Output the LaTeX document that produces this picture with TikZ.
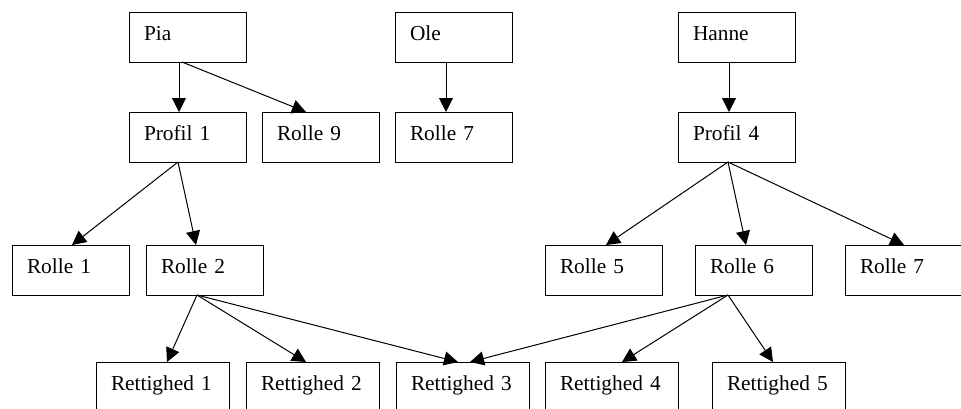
\documentclass[tikz,border=0pt]{standalone}
\usepackage{fontspec}
\setmainfont{Liberation Serif}
\usetikzlibrary{calc,arrows.meta}
\begin{document}
\begin{tikzpicture}[x=0.75pt,y=-0.75pt,
  box/.style={draw, line width=0.75pt, anchor=north west, minimum height=37.5pt,
    inner xsep=11.25pt, inner ysep=0pt, outer sep=0pt, text height=7.5pt, text depth=3pt,
    align=left, font=\fontsize{16}{18}\selectfont},
  sbox/.style={box, text width=65.25pt},
  wbox/.style={box, text width=77.25pt},
  conn/.style={-{Triangle[length=10.5pt,width=10.5pt]}, line width=0.75pt}]
\useasboundingbox (0,0) rectangle (961,408);
% row 1
\node[sbox] (pia) at (129,12) {Pia};
\node[sbox] (ole) at (395,12) {Ole};
\node[sbox] (hanne) at (678,12) {Hanne};
% row 2
\node[sbox] (prof1) at (129,112) {Profil 1};
\node[sbox] (r9) at (262,112) {Rolle 9};
\node[sbox] (r7a) at (395,112) {Rolle 7};
\node[sbox] (prof4) at (678,112) {Profil 4};
% row 3
\node[sbox] (r1) at (12,245) {Rolle 1};
\node[sbox] (r2) at (146,245) {Rolle 2};
\node[sbox] (r5) at (545,245) {Rolle 5};
\node[sbox] (r6) at (695,245) {Rolle 6};
\node[sbox] (r7b) at (845,245) {Rolle 7};
% row 4
\node[wbox] (ret1) at (96,362) {Rettighed 1};
\node[wbox] (ret2) at (246,362) {Rettighed 2};
\node[wbox] (ret3) at (396,362) {Rettighed 3};
\node[wbox] (ret4) at (545,362) {Rettighed 4};
\node[wbox] (ret5) at (712,362) {Rettighed 5};
% connectors
\draw[conn] ($(pia.south west)+(50,0)$) -- ($(prof1.north west)+(50,0)$);
\draw[conn] ($(pia.south west)+(53,0)$) -- ($(r9.north west)+(44,0)$);
\draw[conn] ($(ole.south west)+(51,0)$) -- ($(r7a.north west)+(51,0)$);
\draw[conn] ($(hanne.south west)+(51,0)$) -- ($(prof4.north west)+(51,0)$);
\draw[conn] ($(prof1.south west)+(49,0)$) -- ($(r1.north west)+(60,0)$);
\draw[conn] ($(prof1.south west)+(49,0)$) -- ($(r2.north west)+(50,0)$);
\draw[conn] ($(prof4.south west)+(50,0)$) -- ($(r5.north west)+(61,0)$);
\draw[conn] ($(prof4.south west)+(50,0)$) -- ($(r6.north west)+(51,0)$);
\draw[conn] ($(prof4.south west)+(50,0)$) -- ($(r7b.north west)+(59,0)$);
\draw[conn] ($(r2.south west)+(51,0)$) -- ($(ret1.north west)+(71,0)$);
\draw[conn] ($(r2.south west)+(51,0)$) -- ($(ret2.north west)+(60,0)$);
\draw[conn] ($(r2.south west)+(51,0)$) -- ($(ret3.north west)+(62,0)$);
\draw[conn] ($(r6.south west)+(33,0)$) -- ($(ret3.north west)+(74,0)$);
\draw[conn] ($(r6.south west)+(33,0)$) -- ($(ret4.north west)+(77,0)$);
\draw[conn] ($(r6.south west)+(33,0)$) -- ($(ret5.north west)+(61,0)$);
\end{tikzpicture}
\end{document}
